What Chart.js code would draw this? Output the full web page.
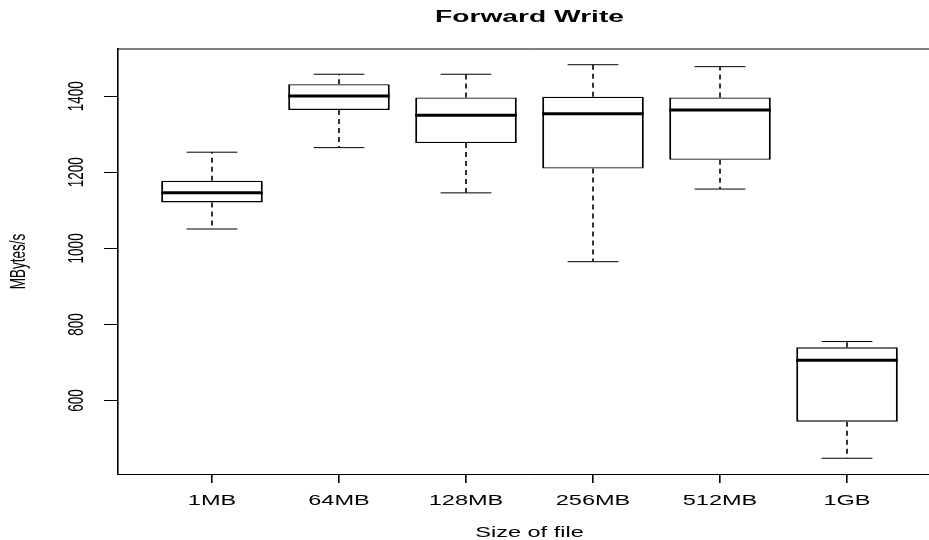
<!DOCTYPE html>
<html>
<head>
<meta charset="utf-8">
<script src="https://cdn.jsdelivr.net/npm/chart.js@4.4.1/dist/chart.umd.min.js"></script>
<style>
  html, body { margin: 0; padding: 0; background: #fff; overflow: hidden; }
  canvas { display: block; }
</style>
</head>
<body>
<canvas id="myChart" width="941" height="540"></canvas>
<script>
// box statistics (MBytes/s)
const categories = ['1MB', '64MB', '128MB', '256MB', '512MB', '1GB'];
const lowerWhisker = [1051, 1265, 1146, 965, 1156, 448];
const lowerQuartile = [1121, 1364, 1277, 1210, 1233, 544];
const medians = [1146, 1401, 1350, 1354, 1364, 706];
const upperQuartile = [1178, 1432, 1397, 1399, 1397, 740];
const upperWhisker = [1253, 1458, 1458, 1483, 1478, 755];
const yTicks = [600, 800, 1000, 1200, 1400];

const titleText = 'Forward Write';
const xTitle = 'Size of file';
const yTitle = 'MBytes/s';

// the original picture was stretched sideways, text too
const SX = 1.68;
const FONT = '"Liberation Sans", Arial, sans-serif';

// R style axis ranges: 4% padding
const lo = Math.min(...lowerWhisker);
const hi = Math.max(...upperWhisker);
const yPad = (hi - lo) * 0.04;
const xPad = categories.length * 0.04;

function stretchText(ctx, text, x, y, font, rotate) {
    ctx.save();
    ctx.translate(x, y);
    ctx.scale(SX, 1);
    if (rotate) ctx.rotate(-Math.PI / 2);
    ctx.font = font;
    ctx.fillStyle = '#000';
    ctx.textAlign = 'center';
    ctx.textBaseline = 'alphabetic';
    ctx.fillText(text, 0, 0);
    ctx.restore();
}

const boxPlot = {
    id: 'boxPlot',
    afterDatasetsDraw(chart) {
        const ctx = chart.ctx;
        const x = chart.scales.x;
        const y = chart.scales.y;
        const area = chart.chartArea;
        ctx.save();
        categories.forEach((c, i) => {
            const cx = x.getPixelForValue(i + 1);
            const capL = x.getPixelForValue(i + 0.8);
            const capR = x.getPixelForValue(i + 1.2);
            const boxL = x.getPixelForValue(i + 0.6);
            const boxR = x.getPixelForValue(i + 1.4);

            // dashed whiskers
            ctx.strokeStyle = '#000';
            ctx.lineWidth = 1.6;
            ctx.setLineDash([5, 4]);
            ctx.beginPath();
            ctx.moveTo(cx, y.getPixelForValue(upperQuartile[i]));
            ctx.lineTo(cx, y.getPixelForValue(upperWhisker[i]));
            ctx.moveTo(cx, y.getPixelForValue(lowerQuartile[i]));
            ctx.lineTo(cx, y.getPixelForValue(lowerWhisker[i]));
            ctx.stroke();

            // caps
            ctx.setLineDash([]);
            ctx.lineWidth = 1;
            ctx.beginPath();
            ctx.moveTo(capL, y.getPixelForValue(upperWhisker[i]));
            ctx.lineTo(capR, y.getPixelForValue(upperWhisker[i]));
            ctx.moveTo(capL, y.getPixelForValue(lowerWhisker[i]));
            ctx.lineTo(capR, y.getPixelForValue(lowerWhisker[i]));
            ctx.stroke();

            // median
            ctx.lineWidth = 3;
            ctx.beginPath();
            ctx.moveTo(boxL, y.getPixelForValue(medians[i]));
            ctx.lineTo(boxR, y.getPixelForValue(medians[i]));
            ctx.stroke();
        });

        // top of the frame (right side is cut off in the picture)
        ctx.lineWidth = 1;
        ctx.beginPath();
        ctx.moveTo(area.left, area.top);
        ctx.lineTo(area.right, area.top);
        ctx.stroke();
        ctx.restore();
    },
    afterDraw(chart) {
        const ctx = chart.ctx;
        const x = chart.scales.x;
        const y = chart.scales.y;
        const area = chart.chartArea;
        const mid = (area.left + area.right) / 2;

        stretchText(ctx, titleText, mid, 21.7, 'bold 16.8px ' + FONT, false);
        categories.forEach((c, i) => {
            stretchText(ctx, c, x.getPixelForValue(i + 1), 505, '14px ' + FONT, false);
        });
        yTicks.forEach(v => {
            stretchText(ctx, String(v), 83, y.getPixelForValue(v), '13.5px ' + FONT, true);
        });
        stretchText(ctx, xTitle, mid, 536.5, '14px ' + FONT, false);
        stretchText(ctx, yTitle, 25, (area.top + area.bottom) / 2, '13.5px ' + FONT, true);
    }
};

const ctx = document.getElementById('myChart');

new Chart(ctx, {
    type: 'bar',
    data: {
        datasets: [{
            label: 'Forward Write',
            data: categories.map((c, i) => ({ x: i + 1, y: [lowerQuartile[i], upperQuartile[i]] })),
            backgroundColor: '#fff',
            borderColor: '#000',
            borderWidth: { left: 2, right: 2, top: 1.4, bottom: 1.4 },
            borderSkipped: false,
            categoryPercentage: 1,
            barPercentage: 0.8
        }]
    },
    options: {
        responsive: false,
        animation: false,
        layout: { padding: { top: 49, left: 0, right: 0, bottom: 0 } },
        plugins: {
            legend: { display: false },
            tooltip: { enabled: false },
            title: { display: false }
        },
        scales: {
            x: {
                type: 'linear',
                offset: false,
                min: 0.5 - xPad,
                max: categories.length + 0.5 + xPad,
                afterBuildTicks: scale => {
                    scale.ticks = categories.map((c, i) => ({ value: i + 1 }));
                },
                afterFit: scale => { scale.height = 66; },
                ticks: { display: false },
                grid: {
                    offset: false,
                    drawOnChartArea: false,
                    drawTicks: true,
                    tickLength: 9,
                    color: '#000',
                    lineWidth: 1.6
                },
                border: { display: true, color: '#000', width: 1 }
            },
            y: {
                min: lo - yPad,
                max: hi + yPad,
                afterBuildTicks: scale => {
                    scale.ticks = yTicks.map(v => ({ value: v }));
                },
                afterFit: scale => { scale.width = 118; },
                ticks: { display: false },
                grid: {
                    drawOnChartArea: false,
                    drawTicks: true,
                    tickLength: 14,
                    color: '#000',
                    lineWidth: 1
                },
                border: { display: true, color: '#000', width: 1.6 }
            }
        }
    },
    plugins: [boxPlot]
});
</script>
</body>
</html>
